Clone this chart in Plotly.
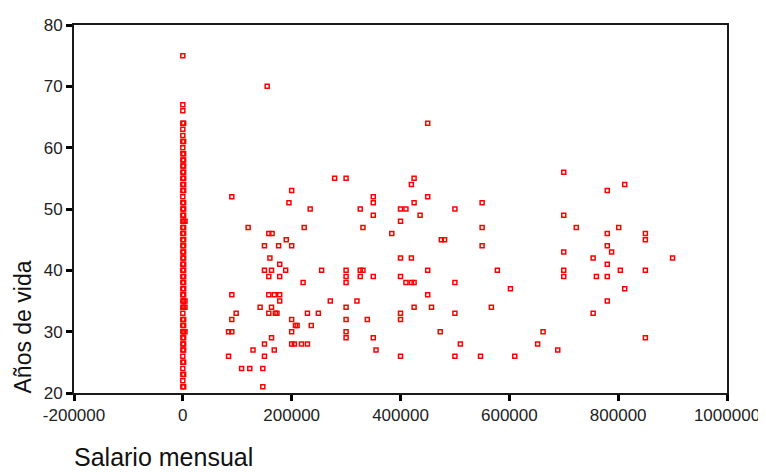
import plotly.graph_objects as go

# --- Data ---
# Respondents with salary 0: ages in the vertical column at x = 0
edad_sin_salario = list(range(21, 65)) + [66, 67, 75]
# Overlapping records at (almost) zero salary which make the column look filled
salario_solapado = [1500] * 36 + [4000] * 4
edad_solapada = [64, 61, 59, 58, 57, 56, 55, 54, 53, 51, 50, 49, 48, 47, 46, 45,
                 44, 43, 42, 41, 40, 39, 38, 37, 36, 35, 34, 32, 31, 30, 29, 28,
                 27, 25, 23, 21, 48, 35, 34, 30]

salario = [
    155000, 90000, 200000, 195000, 120000, 158000, 164000, 190000,
    150000, 176000, 200000, 160000, 178000, 150000, 163000, 189000,
    158000, 178000, 90000, 158000, 168000, 178000, 178000, 142000, 163000,
    98000, 158000, 170000, 173000, 90000, 200000, 207000,
    84000, 90000, 200000, 163000, 150000, 200000, 205000,
    129000, 168000, 84000, 150000, 108000, 123000, 147000, 147000,
    450000, 279000, 300000, 425000, 420000, 350000, 450000,
    350000, 425000, 550000, 234000, 326000, 400000, 410000, 500000,
    350000, 436000, 400000, 223000, 331000, 550000, 384000,
    475000, 481000, 550000, 400000, 420000,
    255000, 300000, 326000, 331000, 450000, 578000,
    300000, 326000, 350000, 400000,
    221000, 300000, 410000, 420000, 425000, 500000,
    602000, 450000, 271000, 320000,
    300000, 425000, 457000, 567000,
    229000, 249000, 400000, 500000,
    300000, 339000, 400000, 210000, 236000,
    300000, 473000, 300000, 350000,
    218000, 229000, 510000, 355000,
    400000, 500000, 547000, 610000,
    700000, 812000, 780000, 700000, 723000, 801000, 780000, 850000,
    850000, 780000, 788000, 700000, 754000, 900000, 780000, 700000,
    804000, 850000, 700000, 760000, 780000, 812000, 780000, 754000,
    662000, 850000, 652000, 689000,
]
edad = [
    70, 52, 53, 51, 47, 46, 46, 45,
    44, 44, 44, 42, 41, 40, 40, 40,
    39, 39, 36, 36, 36, 36, 35, 34, 34,
    33, 33, 33, 33, 32, 32, 31,
    30, 30, 30, 29, 28, 28, 28,
    27, 27, 26, 26, 24, 24, 24, 21,
    64, 55, 55, 55, 54, 52, 52,
    51, 51, 51, 50, 50, 50, 50, 50,
    49, 49, 48, 47, 47, 47, 46,
    45, 45, 44, 42, 42,
    40, 40, 40, 40, 40, 40,
    39, 39, 39, 39,
    38, 38, 38, 38, 38, 38,
    37, 36, 35, 35,
    34, 34, 34, 34,
    33, 33, 33, 33,
    32, 32, 32, 31, 31,
    30, 30, 29, 29,
    28, 28, 28, 27,
    26, 26, 26, 26,
    56, 54, 53, 49, 47, 47, 46, 46,
    45, 44, 43, 43, 42, 42, 41, 40,
    40, 40, 39, 39, 39, 37, 35, 33,
    30, 29, 28, 27,
]

x_ticks = [-200000, 0, 200000, 400000, 600000, 800000, 1000000]
x_tick_labels = ["-200000", "0", "200000", "400000", "600000", "800000", "1000000"]
y_ticks = [20, 30, 40, 50, 60, 70, 80]
y_tick_labels = ["20", "30", "40", "50", "60", "70", "80"]

x_all = [0] * len(edad_sin_salario) + salario_solapado + salario
y_all = edad_sin_salario + edad_solapada + edad

FONT = "Liberation Sans, Arial, sans-serif"

fig = go.Figure()
fig.add_trace(go.Scatter(
    x=x_all, y=y_all, mode="markers",
    marker=dict(symbol="square-open", size=4, color="#ff0000",
                line=dict(width=1.5, color="#ff0000")),
    showlegend=False, hoverinfo="x+y",
))

axis_common = dict(
    showline=True, linecolor="#1a1a1a", linewidth=2, mirror=True,
    showgrid=False, zeroline=False,
    ticks="outside", ticklen=6, tickwidth=3, tickcolor="#000000",
    tickfont=dict(family=FONT, size=17, color="#222222"),
)

# The page adds an 8px body margin, so margins are shifted to compensate.
fig.update_layout(
    width=766, height=472,
    margin=dict(l=66, r=47, t=8, b=87),
    paper_bgcolor="white", plot_bgcolor="white",
    xaxis=dict(range=[-200000, 1000000], tickmode="array",
               tickvals=x_ticks, ticktext=x_tick_labels, **axis_common),
    yaxis=dict(range=[20, 80], tickmode="array",
               tickvals=y_ticks, ticktext=y_tick_labels, **axis_common),
    annotations=[
        dict(text="Salario mensual", xref="paper", yref="paper",
             x=0, y=-0.175, xanchor="left", yanchor="middle", xshift=-2,
             showarrow=False, font=dict(family=FONT, size=25, color="#111111")),
        dict(text="Años de vida", xref="paper", yref="paper",
             x=0, y=0, xanchor="right", yanchor="bottom", xshift=-38, yshift=-2,
             textangle=-90, showarrow=False, borderpad=0,
             font=dict(family=FONT, size=23, color="#111111")),
    ],
)

fig.write_html("out.html")
